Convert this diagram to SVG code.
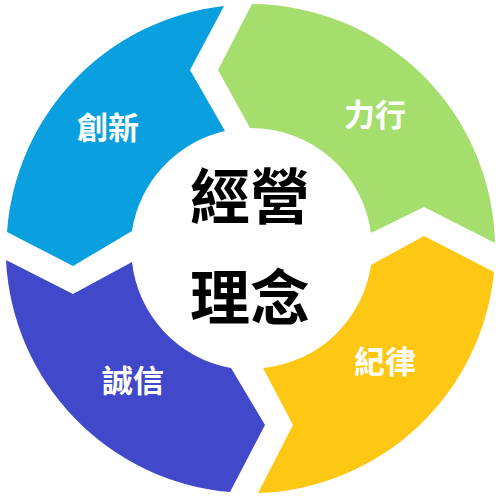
<svg xmlns="http://www.w3.org/2000/svg" width="501" height="498" viewBox="0 0 501 498">
<style>
.lbl{font-family:"Noto Sans CJK TC","Noto Sans CJK SC",sans-serif;font-weight:700;fill:#fff;font-size:31px;text-anchor:middle;dominant-baseline:central}
.ctr{font-family:"Noto Sans CJK TC","Noto Sans CJK SC",sans-serif;font-weight:700;fill:#000;font-size:60px;text-anchor:middle;dominant-baseline:central}
</style>
<rect width="501" height="498" fill="#fff"/>
<g id="node-innovation">
<path d="M224,6 A245,245 0 0 0 7,232 L73,266 L132,231 A121,121 0 0 1 225,131 L190,70 Z" fill="#0A9FDE"/>
<text class="lbl" x="108" y="125">創新</text>
</g>
<g id="node-action">
<path d="M495,243 A245,245 0 0 0 252,4 L218,70 L250,128 A121,121 0 0 1 371,233 L424,207 Z" fill="#A6DE6E"/>
<text class="lbl" x="375" y="112">力行</text>
</g>
<g id="node-discipline">
<path d="M258,493 A245,245 0 0 0 494,272 L424,236 L371,265 A121,121 0 0 1 263,368 L293,425 Z" fill="#FEC713"/>
<text class="lbl" x="385" y="359">紀律</text>
</g>
<g id="node-integrity">
<path d="M6,260 A245,245 0 0 0 230,492 L265,425 L231,368 A121,121 0 0 1 132,262 L73,294 Z" fill="#4148C9"/>
<text class="lbl" x="133" y="378">誠信</text>
</g>
<g id="node-center">
<text class="ctr" x="250" y="192">經營</text>
<text class="ctr" x="250" y="293">理念</text>
</g>
<g id="connectors"></g>
</svg>
